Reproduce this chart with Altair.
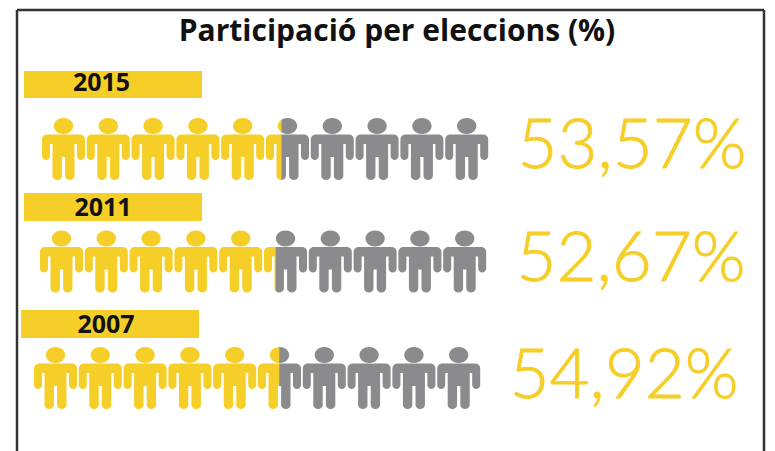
import math
import altair as alt
import pandas as pd

W, H = 759, 443
OX, OY = 8, 8

YEARS = ["2015", "2011", "2007"]
VALUES = [53.57, 52.67, 54.92]
LABELS = ["53,57%", "52,67%", "54,92%"]
FIRST_X = [63.5, 61.5, 55.5]
ROW_Y = [149, 261.5, 378]
BAR_X0 = [24, 24, 21]
BAR_X1 = [202, 202, 199]
BAR_Y0 = [71, 193, 310]
BAR_Y1 = [98, 221, 338]
YEAR_X = [101.5, 103, 106]
YEAR_Y = [83, 208, 325]
LABEL_X = [632, 631, 624]
LABEL_Y = [168, 281, 398]
STEP = 44.8
N_PEOPLE = 10
PERSON_WIDTH = 43
YELLOW = "#F5CE28"
GREY = "#8B8B8D"
FRAME = "#333333"


def arc(cx, cy, rx, ry, a0, a1, n=8):
    return [(cx + rx * math.cos(math.radians(a0 + (a1 - a0) * i / n)),
             cy + ry * math.sin(math.radians(a0 + (a1 - a0) * i / n))) for i in range(n + 1)]


def person():
    head = arc(0, -23, 9.7, 8, 0, 360, 24)[:-1]
    right = []
    right += arc(16.5, -9.5, 5, 5, -90, 0)
    right += arc(17.5, 7, 4, 4, 0, 180)
    right += [(13.5, -5), (11, -5)]
    right += arc(6.3, 27, 4.7, 4, 0, 180)
    right += [(1.6, 8)]
    body = right + [(-x, y) for x, y in reversed(right)]
    return [head, body]


def clip(poly, limit, keep_left):
    inside = (lambda p: p[0] <= limit) if keep_left else (lambda p: p[0] >= limit)
    out = []
    for i, p in enumerate(poly):
        q = poly[(i + 1) % len(poly)]
        if inside(p):
            out.append(p)
        if inside(p) != inside(q):
            t = (limit - p[0]) / (q[0] - p[0])
            out.append((limit, p[1] + t * (q[1] - p[1])))
    return out


def path(polys):
    s = ""
    for poly in polys:
        if poly:
            s += "M" + "L".join(f"{x:.2f},{y:.2f}" for x, y in poly) + "Z"
    return s


FULL = path(person())
rows = []
for r, val in enumerate(VALUES):
    for i in range(N_PEOPLE):
        px, py = FIRST_X[r] + i * STEP - OX, ROW_Y[r] - OY
        if i == 5:
            limit = (val / 10 - 5.5) * PERSON_WIDTH
            rows.append(dict(x=px, y=py, c=YELLOW, shape=path([clip(p, limit, True) for p in person()])))
            rows.append(dict(x=px, y=py, c=GREY, shape=path([clip(p, limit, False) for p in person()])))
        else:
            rows.append(dict(x=px, y=py, shape=FULL, c=YELLOW if i < 5 else GREY))

xs = alt.Scale(domain=[0, W], range=[0, W])
ys = alt.Scale(domain=[0, H], range=[0, H])
X = lambda f: alt.X(f, type="quantitative", scale=xs, axis=None)
Y = lambda f: alt.Y(f, type="quantitative", scale=ys, axis=None)

layers = []
bars = pd.DataFrame(dict(x=[v - OX for v in BAR_X0], x2=[v - OX for v in BAR_X1],
                         y=[v - OY for v in BAR_Y0], y2=[v - OY for v in BAR_Y1]))
layers.append(alt.Chart(bars).mark_rect(color=YELLOW).encode(x=X("x"), x2="x2", y=Y("y"), y2="y2"))

for row in rows:
    layers.append(alt.Chart(pd.DataFrame([dict(x=row["x"], y=row["y"])])).mark_point(
        filled=True, size=4, opacity=1, strokeWidth=0, shape=row["shape"], color=row["c"]
    ).encode(x=X("x"), y=Y("y")))

years = pd.DataFrame(dict(x=[v - OX for v in YEAR_X], y=[v - OY for v in YEAR_Y], t=YEARS))
layers.append(alt.Chart(years).mark_text(font="Open Sans", fontWeight="bold", fontSize=25,
                                         color="#111111", baseline="middle").encode(x=X("x"), y=Y("y"), text="t"))
labels = pd.DataFrame(dict(x=[v - OX for v in LABEL_X], y=[v - OY for v in LABEL_Y], t=LABELS))
layers.append(alt.Chart(labels).mark_text(font="Lato", fontWeight=300, fontSize=69, color=YELLOW,
                                          stroke=YELLOW, strokeWidth=0.9,
                                          baseline="alphabetic").encode(x=X("x"), y=Y("y"), text="t"))
title = pd.DataFrame(dict(x=[397 - OX], y=[32 - OY], t=["Participació per eleccions (%)"]))
layers.append(alt.Chart(title).mark_text(font="Open Sans", fontWeight="bold", fontSize=30,
                                         color="#111111", baseline="middle").encode(x=X("x"), y=Y("y"), text="t"))
frame = pd.DataFrame(dict(x=[17 - OX, 17 - OX, 764 - OX], x2=[17 - OX, 764 - OX, 764 - OX],
                          y=[10 - OY, 10 - OY, 10 - OY], y2=[H, 10 - OY, H]))
layers.append(alt.Chart(frame).mark_rule(color=FRAME, strokeWidth=2.5).encode(
    x=X("x"), x2="x2", y=Y("y"), y2="y2"))

chart = alt.layer(*layers).properties(
    width=W, height=H, padding=0, background="white"
).configure_view(stroke=None)
chart.save("out.html", embed_options={"renderer": "svg", "actions": False})
